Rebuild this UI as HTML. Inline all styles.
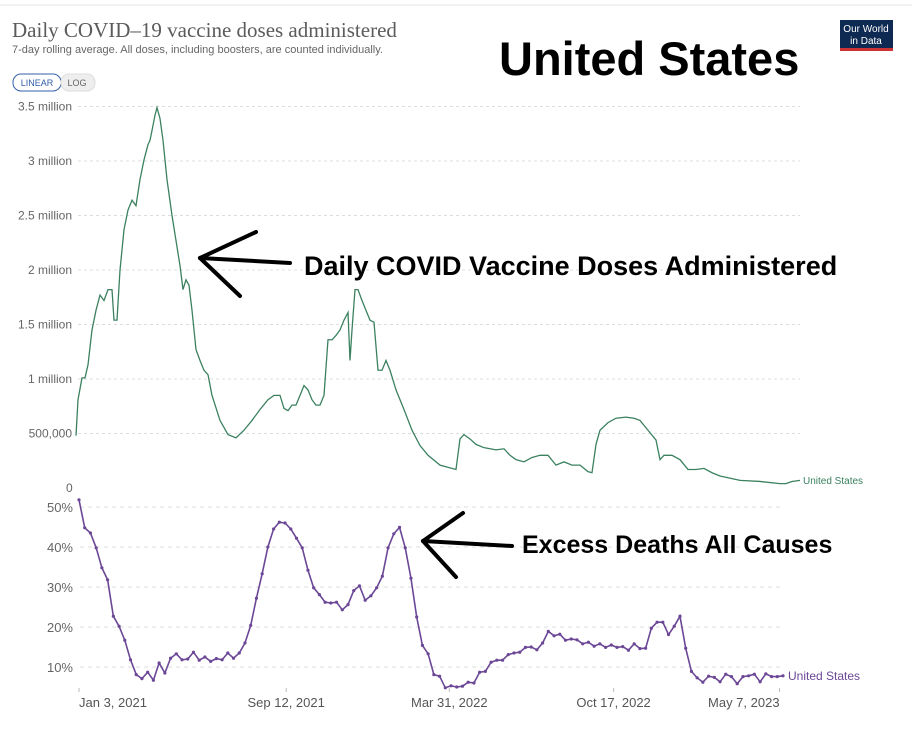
<!DOCTYPE html>
<html><head><meta charset="utf-8"><style>
body{margin:0;width:912px;height:752px;background:#fff;overflow:hidden;font-family:"Liberation Sans",sans-serif}
svg{position:absolute;left:0;top:0}
</style></head><body>
<svg width="912" height="752" id="svg">
<rect x="0" y="0" width="912" height="752" fill="#fff"/>
<line x1="0" y1="5" x2="912" y2="5" stroke="#f2f2f2" stroke-width="2"/>
<text x="12" y="37" font-family="Liberation Serif,serif" font-size="21" fill="#5b5b5b">Daily COVID–19 vaccine doses administered</text>
<text x="12" y="53" font-size="11" fill="#666">7-day rolling average. All doses, including boosters, are counted individually.</text>
<g><rect x="13" y="74" width="48" height="17" rx="8" fill="#fff" stroke="#3360a9"/><text x="37" y="86" font-size="9" fill="#3360a9" text-anchor="middle">LINEAR</text></g>
<g><rect x="61" y="74" width="34" height="17" rx="8" fill="#eee" stroke="#ddd"/><text x="77" y="86" font-size="9" fill="#666" text-anchor="middle">LOG</text></g>
<g><rect x="840" y="20" width="53" height="30" fill="#0f2a52"/><rect x="840" y="48" width="53" height="3" fill="#cc3333"/><text x="866" y="32" font-size="10" fill="#fff" text-anchor="middle">Our World</text><text x="866" y="44" font-size="10" fill="#fff" text-anchor="middle">in Data</text></g>
<text x="499" y="75" font-size="47" font-weight="bold" fill="#000">United States</text>
<g id="topChart"></g>
<g id="botChart"></g>
<text x="304" y="275" font-size="27" font-weight="bold" fill="#000">Daily COVID Vaccine Doses Administered</text>
<text x="522" y="553" font-size="25" font-weight="bold" fill="#000">Excess Deaths All Causes</text>
<g stroke="#000" stroke-width="4" stroke-linecap="round"><line x1="200" y1="258" x2="290" y2="263"/><line x1="200" y1="258" x2="256" y2="232"/><line x1="200" y1="258" x2="240" y2="296"/></g>
<g stroke="#000" stroke-width="4" stroke-linecap="round"><line x1="423" y1="541" x2="512" y2="546"/><line x1="423" y1="541" x2="463" y2="513"/><line x1="423" y1="541" x2="456" y2="577"/></g>
</svg>
<script>
// Top chart data: day offset and doses (millions)
const vaxDay=[0,2,6,9,12,16,20,24,28,32,36,38,41,44,48,52,56,60,64,68,72,74,76,79,81,84,87,91,96,100,104,107,110,113,116,120,124,128,132,136,144,152,160,168,176,184,192,198,204,208,212,216,220,224,228,232,236,240,244,248,252,256,260,264,268,272,274,276,279,282,286,290,294,298,302,306,310,314,320,328,336,344,352,364,380,384,388,394,400,408,420,428,434,440,448,456,464,472,480,488,496,504,512,516,520,524,532,540,550,558,564,572,580,584,588,596,604,612,620,628,636,644,664,684,704,710,716,724];
const vaxDoses=[0.48,0.81,1.01,1.01,1.13,1.45,1.63,1.77,1.72,1.82,1.82,1.54,1.54,2.00,2.37,2.55,2.64,2.59,2.83,3.01,3.15,3.19,3.28,3.42,3.49,3.39,3.19,2.83,2.50,2.27,2.04,1.82,1.91,1.86,1.63,1.27,1.17,1.08,1.04,0.85,0.62,0.49,0.46,0.53,0.62,0.72,0.81,0.85,0.85,0.73,0.71,0.76,0.76,0.85,0.94,0.90,0.81,0.76,0.76,0.85,1.36,1.36,1.40,1.45,1.54,1.61,1.17,1.45,1.82,1.82,1.72,1.63,1.54,1.52,1.08,1.08,1.17,1.08,0.90,0.72,0.53,0.39,0.30,0.21,0.17,0.45,0.49,0.45,0.40,0.37,0.35,0.36,0.30,0.26,0.24,0.28,0.30,0.30,0.21,0.24,0.21,0.21,0.15,0.14,0.40,0.53,0.60,0.64,0.65,0.64,0.62,0.53,0.44,0.26,0.30,0.30,0.26,0.17,0.17,0.18,0.14,0.11,0.07,0.06,0.04,0.04,0.06,0.07];
const vaxTicks=[3.5,3,2.5,2,1.5,1,0.5];
const vaxTickLabels=["3.5 million","3 million","2.5 million","2 million","1.5 million","1 million","500,000"];
// Bottom chart data: weekly excess deaths (%)
const deathPct=[51.8,44.8,43.5,39.8,34.8,31.8,22.7,20.2,16.7,11.8,8.1,7.1,8.7,6.7,11,8.5,12.2,13.3,11.8,12,13.7,11.7,12.5,11.4,12.1,11.8,13.5,12.2,13.5,16,20.4,27.2,33.3,40,44.5,46.2,46,44.5,42.2,39.8,34.2,29.8,28.1,26.2,26,26.2,24.3,25.6,29.1,30.3,26.7,27.8,29.8,32.7,39.8,43.3,44.9,39.8,32.2,22.5,15.4,13.3,8.1,7.7,4.8,5.3,5,5.2,6.2,6,8.7,8.9,11.2,11.7,11.7,13.1,13.5,13.7,14.9,15,14.3,16,18.9,17.8,18.2,16.7,17,16.8,15.8,16.2,15.2,15.8,14.9,15.5,14.9,15.1,14.2,15.8,14.6,14.7,19.7,21.2,21.2,18.1,20.2,22.7,14.7,8.9,7.3,6.2,7.7,7.4,6.3,8.2,7.6,5.8,7.6,7.8,8.2,6.3,8.3,7.6,7.6,7.8];
const deathTicks=[50,40,30,20,10];
const dateTickWeeks=[0,36.2,64.7,93.4,122.4];
const dateTickLabels=["Jan 3, 2021","Sep 12, 2021","Mar 31, 2022","Oct 17, 2022","May 7, 2023"];

const NS="http://www.w3.org/2000/svg";
function mk(tag,attrs,parent,txt){const e=document.createElementNS(NS,tag);for(const k in attrs)e.setAttribute(k,attrs[k]);if(txt!==undefined)e.textContent=txt;parent.appendChild(e);return e;}
const topG=document.getElementById('topChart'),botG=document.getElementById('botChart');
const tx=d=>76+d, ty=v=>488-v*109;
vaxTicks.forEach((t,i)=>{
  const g=mk('line',{x1:78,x2:800,y1:ty(t),y2:ty(t),stroke:'#ddd','stroke-dasharray':'3,3'},topG);
  
  
  const l=mk('text',{x:72,y:ty(t)+4,'font-size':12,fill:'#666','text-anchor':'end'},topG,vaxTickLabels[i]);
  
  
});
const z=mk('text',{x:66,y:492,'font-size':12,fill:'#666'},topG,"0");


const vl=mk('polyline',{points:vaxDay.map((d,i)=>tx(d)+','+ty(vaxDoses[i])).join(' '),fill:'none',stroke:'#3b8160','stroke-width':1.3},topG);


const vlab=mk('text',{x:803,y:484,'font-size':10,fill:'#3b8160'},topG,'United States');



const by=v=>707-v*4;
const stepX=704/(deathPct.length-1);
const dx=i=>79+i*stepX;
deathTicks.forEach(t=>{
  const g=mk('line',{x1:80,x2:780,y1:by(t),y2:by(t),stroke:'#ddd','stroke-dasharray':'4,4'},botG);
  
  
  const l=mk('text',{x:73,y:by(t)+5,'font-size':13,fill:'#666','text-anchor':'end'},botG,t+'%');
  
  
});
dateTickWeeks.forEach((w,i)=>{
  const tk=mk('line',{x1:dx(w),x2:dx(w),y1:688,y2:692,stroke:'#bbb'},botG);
  
  
  const anchor=i==0?'start':(i==dateTickWeeks.length-1?'end':'middle');
  const l=mk('text',{x:dx(w),y:707,'font-size':13,fill:'#555','text-anchor':anchor},botG,dateTickLabels[i]);
  
  
});
const dl=mk('polyline',{points:deathPct.map((v,i)=>dx(i)+','+by(v)).join(' '),fill:'none',stroke:'#6b4796','stroke-width':1.6},botG);


deathPct.forEach((v,i)=>{
  const c=mk('circle',{cx:dx(i),cy:by(v),r:1.6,fill:'#6b4796'},botG);
  
  
});
const dlab=mk('text',{x:788,y:680,'font-size':12,fill:'#6b4796'},botG,'United States');


</script>
</body></html>
